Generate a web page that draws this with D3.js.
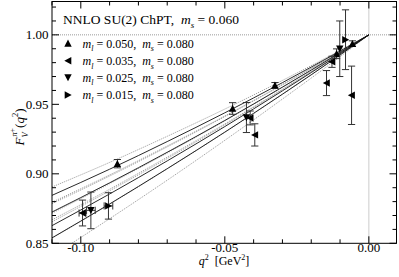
<!DOCTYPE html>
<html>
<head>
<meta charset="utf-8">
<script src="https://cdn.jsdelivr.net/npm/d3@7"></script>
<style>
  html, body { margin: 0; padding: 0; background: #fff; }
  svg { display: block; }
</style>
</head>
<body>
<div id="chart"></div>
<script>
// pion vector form factor vs q^2, NNLO SU(2) ChPT fits

const qFit = [-0.11, -0.09, -0.07, -0.05, -0.03, -0.01, 0];

// central fit curves (one per light mass) and their error-band half widths
const fit050 = [0.8845, 0.9033, 0.9232, 0.9439, 0.9656, 0.9883, 1];
const fit035 = [0.8725, 0.8935, 0.9155, 0.9384, 0.9624, 0.9872, 1];
const fit025 = [0.8627, 0.8855, 0.9093, 0.9340, 0.9597, 0.9863, 1];
const fit015 = [0.8539, 0.8783, 0.9037, 0.9300, 0.9573, 0.9855, 1];
const band050 = [0.0060, 0.0049, 0.0038, 0.0027, 0.0016, 0.0005, 0];
const band035 = [0.0070, 0.0057, 0.0045, 0.0032, 0.0019, 0.0006, 0];
const band025 = [0.0090, 0.0074, 0.0057, 0.0041, 0.0025, 0.0008, 0];
const band015 = [0.0130, 0.0106, 0.0083, 0.0059, 0.0035, 0.0012, 0];

// lattice points: [q2, F, dF, dq2]
const pts050 = [[-0.0873, 0.9073, 0.0030, 0], [-0.0473, 0.9470, 0.0042, 0], [-0.0326, 0.9637, 0.0020, 0],
                [-0.0112, 0.9864, 0.0035, 0], [-0.0057, 0.9937, 0.0020, 0]];
const pts035 = [[-0.0994, 0.8718, 0.0093, 0.0012], [-0.0412, 0.9402, 0.0050, 0], [-0.0396, 0.9280, 0.0080, 0],
                [-0.0147, 0.9653, 0.0090, 0], [-0.0128, 0.9806, 0.0040, 0], [-0.0060, 0.9565, 0.0210, 0]];
const pts025 = [[-0.0965, 0.8737, 0.0132, 0.0015], [-0.0425, 0.9405, 0.0108, 0], [-0.0101, 0.9900, 0.0200, 0]];
const pts015 = [[-0.0904, 0.8769, 0.0095, 0.0015], [-0.0081, 0.9965, 0.0215, 0]];

const legendMl = ['0.050', '0.035', '0.025', '0.015'];
const legendMs = '0.080';
const titleMs = '0.060';

const xMajor = [-0.10, -0.05, 0.00];
const yMajor = [0.85, 0.90, 0.95, 1.00];

const W = 399, H = 277;
const L = 52, R = 396.5, T = 1.5, B = 243.3;
const FONT = "'Liberation Serif', 'Times New Roman', Times, serif";

const svg = d3.select('#chart').append('svg')
  .attr('width', W).attr('height', H)
  .attr('font-family', FONT);

const x = d3.scaleLinear().domain([-0.11, 0.0096]).range([L, R]);
const y = d3.scaleLinear().domain([0.85, 1.024]).range([B, T]);

svg.append('clipPath').attr('id', 'clip')
  .append('rect').attr('x', L).attr('y', T).attr('width', R - L).attr('height', B - T);

const plot = svg.append('g').attr('clip-path', 'url(#clip)');

// dotted reference lines at F=1 and q2=0
plot.append('line')
  .attr('x1', L).attr('x2', R).attr('y1', y(1)).attr('y2', y(1))
  .attr('stroke', '#999').attr('stroke-width', 1).attr('stroke-dasharray', '1,1');
plot.append('line')
  .attr('x1', x(0)).attr('x2', x(0)).attr('y1', T).attr('y2', B)
  .attr('stroke', '#999').attr('stroke-width', 1).attr('stroke-dasharray', '1,1');

// fit curves
const line = d3.line().x(d => x(d[0])).y(d => y(d[1])).curve(d3.curveMonotoneX);
const fits = [[fit050, band050], [fit035, band035], [fit025, band025], [fit015, band015]];

for (const [fit, band] of fits) {
  const upper = qFit.map((q, i) => [q, fit[i] + band[i]]);
  const lower = qFit.map((q, i) => [q, fit[i] - band[i]]);
  for (const b of [upper, lower]) {
    plot.append('path').attr('d', line(b))
      .attr('fill', 'none').attr('stroke', '#8a8a8a').attr('stroke-width', 0.8)
      .attr('stroke-dasharray', '1.2,1');
  }
}
for (const [fit] of fits) {
  plot.append('path').attr('d', line(qFit.map((q, i) => [q, fit[i]])))
    .attr('fill', 'none').attr('stroke', '#111').attr('stroke-width', 0.9);
}

// triangle marker paths
const S = 3.7;
const tri = {
  up:    `M0,${-S}L${S},${S * 0.9}L${-S},${S * 0.9}Z`,
  down:  `M0,${S}L${S},${-S * 0.9}L${-S},${-S * 0.9}Z`,
  left:  `M${-S},0L${S * 0.9},${-S}L${S * 0.9},${S}Z`,
  right: `M${S},0L${-S * 0.9},${-S}L${-S * 0.9},${S}Z`
};

const series = [[pts050, 'up'], [pts035, 'left'], [pts025, 'down'], [pts015, 'right']];
const cap = 3.6;

const marks = svg.append('g');
for (const [pts, shape] of series) {
  for (const [q, f, df, dq] of pts) {
    const px = x(q), py = y(f);
    const eb = marks.append('g').attr('stroke', '#333').attr('stroke-width', 1).attr('fill', 'none');
    if (df > 0) {
      eb.append('line').attr('x1', px).attr('x2', px).attr('y1', y(f - df)).attr('y2', y(f + df));
      eb.append('line').attr('x1', px - cap).attr('x2', px + cap).attr('y1', y(f - df)).attr('y2', y(f - df));
      eb.append('line').attr('x1', px - cap).attr('x2', px + cap).attr('y1', y(f + df)).attr('y2', y(f + df));
    }
    if (dq > 0) {
      eb.append('line').attr('x1', x(q - dq)).attr('x2', x(q + dq)).attr('y1', py).attr('y2', py);
      eb.append('line').attr('x1', x(q - dq)).attr('x2', x(q - dq)).attr('y1', py - cap).attr('y2', py + cap);
      eb.append('line').attr('x1', x(q + dq)).attr('x2', x(q + dq)).attr('y1', py - cap).attr('y2', py + cap);
    }
    marks.append('path').attr('d', tri[shape])
      .attr('transform', `translate(${px},${py})`).attr('fill', '#000');
  }
}

// frame
svg.append('rect').attr('x', L).attr('y', T).attr('width', R - L).attr('height', B - T)
  .attr('fill', 'none').attr('stroke', '#000').attr('stroke-width', 1);

// ticks (inward, on all four sides)
const tk = svg.append('g').attr('stroke', '#000').attr('stroke-width', 1);
const xMinor = d3.range(-11, 1).map(i => i / 100);
const yMinor = d3.range(85, 103).map(i => i / 100);
for (const v of xMinor) {
  const major = xMajor.some(m => Math.abs(m - v) < 1e-9);
  const len = major ? 7 : 4;
  tk.append('line').attr('x1', x(v)).attr('x2', x(v)).attr('y1', B).attr('y2', B - len);
  tk.append('line').attr('x1', x(v)).attr('x2', x(v)).attr('y1', T).attr('y2', T + len);
}
for (const v of yMinor) {
  const major = yMajor.some(m => Math.abs(m - v) < 1e-9);
  const len = major ? 7 : 4;
  tk.append('line').attr('x1', L).attr('x2', L + len).attr('y1', y(v)).attr('y2', y(v));
  tk.append('line').attr('x1', R).attr('x2', R - len).attr('y1', y(v)).attr('y2', y(v));
}

// tick labels
const fmt = d3.format('.2f');
svg.append('g').selectAll('text').data(xMajor).join('text')
  .attr('x', d => x(d)).attr('y', 252)
  .attr('text-anchor', 'middle').attr('font-size', 13)
  .text(d => fmt(d).replace('−', '-'));
svg.append('g').selectAll('text').data(yMajor).join('text')
  .attr('x', 48.5).attr('y', d => y(d) + 4.3)
  .attr('text-anchor', 'end').attr('font-size', 13)
  .text(d => fmt(d));

// axis titles
const xt = svg.append('text').attr('x', 224).attr('y', 265)
  .attr('text-anchor', 'middle').attr('font-size', 12);
xt.append('tspan').attr('font-style', 'italic').text('q');
xt.append('tspan').attr('font-size', 8).attr('dy', -5).text('2');
xt.append('tspan').attr('dy', 5).text('\u00a0\u00a0[GeV');
xt.append('tspan').attr('font-size', 8).attr('dy', -5).text('2');
xt.append('tspan').attr('dy', 5).text(']');

const yt = svg.append('text')
  .attr('transform', 'translate(24,127) rotate(-90)')
  .attr('text-anchor', 'middle').attr('font-size', 13);
yt.append('tspan').attr('font-style', 'italic').text('F');
yt.append('tspan').attr('font-size', 8.5).attr('font-style', 'italic').attr('dy', 3.5).text('V');
yt.append('tspan').attr('font-size', 8.5).attr('font-style', 'italic').attr('dy', -11).attr('dx', -4).text('\u03c0');
yt.append('tspan').attr('font-size', 7.5).attr('dy', -2).text('+');
yt.append('tspan').attr('dy', 9.5).text('(');
yt.append('tspan').attr('font-style', 'italic').text('q');
yt.append('tspan').attr('font-size', 8.5).attr('dy', -6).text('2');
yt.append('tspan').attr('dy', 6).text(')');

// title
const tt = svg.append('text').attr('x', 63).attr('y', 24).attr('font-size', 13.5);
tt.append('tspan').text('NNLO SU(2) ChPT,\u00a0\u00a0');
tt.append('tspan').attr('font-style', 'italic').text('m');
tt.append('tspan').attr('font-size', 9).attr('font-style', 'italic').attr('dy', 3.5).text('s');
tt.append('tspan').attr('dy', -3.5).text('\u00a0=\u00a0' + titleMs);

// legend
const legShapes = ['up', 'left', 'down', 'right'];
const legY = [43.3, 60.7, 77.6, 95];
legendMl.forEach((ml, i) => {
  svg.append('path').attr('d', tri[legShapes[i]])
    .attr('transform', `translate(68,${legY[i]})`).attr('fill', '#000');
  const t = svg.append('text').attr('x', 82.5).attr('y', legY[i] + 4.3).attr('font-size', 12);
  t.append('tspan').attr('font-style', 'italic').text('m');
  t.append('tspan').attr('font-size', 8).attr('font-style', 'italic').attr('dy', 3.5).text('l');
  t.append('tspan').attr('dy', -3.5).text('\u00a0=\u00a0' + ml + ',\u00a0\u00a0');
  t.append('tspan').attr('font-style', 'italic').text('m');
  t.append('tspan').attr('font-size', 8).attr('font-style', 'italic').attr('dy', 3.5).text('s');
  t.append('tspan').attr('dy', -3.5).text('\u00a0=\u00a0' + legendMs);
});
</script>
</body>
</html>
